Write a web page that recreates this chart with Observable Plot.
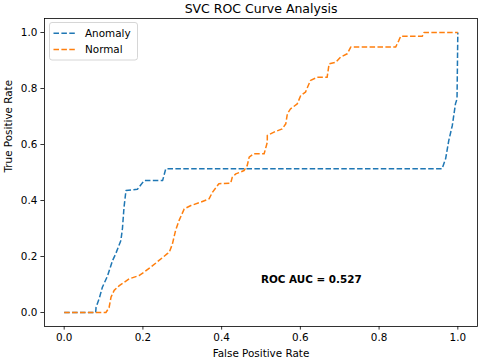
<!DOCTYPE html>
<html>
<head>
<meta charset="utf-8">
<script src="https://cdn.jsdelivr.net/npm/d3@7"></script>
<script src="https://cdn.jsdelivr.net/npm/@observablehq/plot@0.6"></script>
<style>
  html, body { margin: 0; padding: 0; background: #fff; }
  #chart { width: 480px; height: 361px; }
</style>
</head>
<body>
<div id="chart"></div>
<script>
const anomalyFpr = [0, 0.08, 0.081, 0.089, 0.097, 0.11, 0.123, 0.131, 0.144, 0.148, 0.152, 0.157, 0.186, 0.203, 0.25, 0.258, 0.96, 0.969, 0.977, 0.986, 0.994, 0.998, 1];
const anomalyTpr = [0, 0, 0.019, 0.05, 0.09, 0.13, 0.186, 0.21, 0.257, 0.30, 0.376, 0.436, 0.44, 0.471, 0.471, 0.513, 0.513, 0.549, 0.614, 0.668, 0.745, 0.763, 1];

const normalFpr = [0, 0.106, 0.114, 0.119, 0.127, 0.14, 0.165, 0.19, 0.203, 0.22, 0.241, 0.262, 0.267, 0.275, 0.283, 0.292, 0.305, 0.322, 0.347, 0.368, 0.377, 0.393, 0.423, 0.427, 0.436, 0.457, 0.465, 0.47, 0.482, 0.508, 0.516, 0.516, 0.533, 0.554, 0.563, 0.567, 0.575, 0.592, 0.601, 0.613, 0.622, 0.626, 0.643, 0.668, 0.673, 0.69, 0.702, 0.719, 0.728, 0.842, 0.85, 0.855, 0.91, 0.914, 1];
const normalTpr = [0, 0, 0.017, 0.055, 0.079, 0.096, 0.12, 0.132, 0.144, 0.162, 0.186, 0.21, 0.215, 0.245, 0.293, 0.329, 0.37, 0.382, 0.394, 0.406, 0.43, 0.46, 0.462, 0.483, 0.495, 0.507, 0.525, 0.555, 0.567, 0.567, 0.608, 0.632, 0.644, 0.656, 0.674, 0.71, 0.727, 0.745, 0.775, 0.787, 0.817, 0.829, 0.84, 0.84, 0.888, 0.894, 0.912, 0.924, 0.948, 0.948, 0.971, 0.987, 0.987, 1.0, 1];

const seriesNames = ["Anomaly", "Normal"];
const seriesColors = ["#1f77b4", "#ff7f0e"];
const tickValues = [0, 0.2, 0.4, 0.6, 0.8, 1.0];
const aucLabel = "ROC AUC = 0.527";
const aucPos = {x: 0.5, y: 0.118};
const titleText = "SVC ROC Curve Analysis";
const xLabel = "False Positive Rate";
const yLabel = "True Positive Rate";

const anomaly = anomalyFpr.map((x, i) => ({x, y: anomalyTpr[i], s: seriesNames[0]}));
const normal = normalFpr.map((x, i) => ({x, y: normalTpr[i], s: seriesNames[1]}));

const dash = "5.5,2.4";
const font = "DejaVu Sans, sans-serif";

const chart = Plot.plot({
  width: 480,
  height: 361,
  marginLeft: 44,
  marginRight: 3,
  marginTop: 18,
  marginBottom: 35,
  style: {fontFamily: font, fontSize: "10.4px", color: "#000", background: "#fff"},
  x: {domain: [-0.05, 1.05], label: null},
  y: {domain: [-0.05, 1.05], label: null},
  color: {domain: seriesNames, range: seriesColors},
  marks: [
    Plot.line(anomaly, {x: "x", y: "y", stroke: "s", strokeWidth: 1.5, strokeDasharray: dash, strokeLinecap: "butt"}),
    Plot.line(normal, {x: "x", y: "y", stroke: "s", strokeWidth: 1.5, strokeDasharray: dash, strokeLinecap: "butt"}),
    Plot.frame({stroke: "#000", strokeWidth: 0.8}),
    Plot.axisX({ticks: tickValues, tickFormat: d3.format(".1f"), tickSize: 3.6, tickPadding: 3.5, label: null, stroke: "#000", strokeWidth: 0.8}),
    Plot.axisY({ticks: tickValues, tickFormat: d3.format(".1f"), tickSize: 3.6, tickPadding: 3.5, label: null, stroke: "#000", strokeWidth: 0.8}),
    Plot.text([aucPos], {x: "x", y: "y", text: () => aucLabel, textAnchor: "start", lineAnchor: "middle", fontWeight: "bold", fontSize: 10.4, fill: "#000"}),
    Plot.text([titleText], {frameAnchor: "top", lineAnchor: "middle", dy: -10, fontSize: 12.5, fill: "#000"}),
    Plot.text([xLabel], {frameAnchor: "bottom", lineAnchor: "middle", dy: 27, fontSize: 10.4, fill: "#000"}),
    Plot.text([yLabel], {frameAnchor: "left", lineAnchor: "middle", dx: -36, rotate: -90, fontSize: 10.4, fill: "#000"})
  ]
});

document.getElementById("chart").appendChild(chart);

// Legend (matplotlib-style, upper left)
const svg = d3.select(chart);
const lg = svg.append("g").attr("font-family", font).attr("font-size", "10.4px").attr("text-anchor", "start");
lg.append("rect")
  .attr("x", 49.5).attr("y", 22.5).attr("width", 88).attr("height", 37.5)
  .attr("rx", 2.5).attr("fill", "#fff").attr("fill-opacity", 0.8)
  .attr("stroke", "#cccccc").attr("stroke-width", 0.8);
seriesNames.forEach((name, i) => {
  const cy = 33.3 + i * 16.3;
  lg.append("line")
    .attr("x1", 53.5).attr("x2", 76).attr("y1", cy).attr("y2", cy)
    .attr("stroke", seriesColors[i]).attr("stroke-width", 1.5)
    .attr("stroke-dasharray", dash);
  lg.append("text")
    .attr("x", 85).attr("y", cy).attr("dy", "0.35em")
    .attr("text-anchor", "start")
    .attr("fill", "#000").text(name);
});
</script>
</body>
</html>
